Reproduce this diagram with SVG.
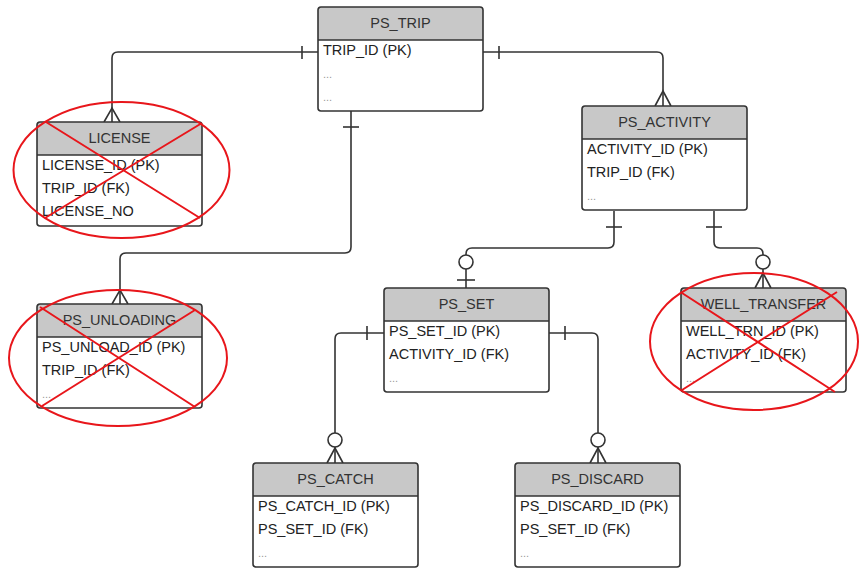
<svg xmlns="http://www.w3.org/2000/svg" xmlns:xlink="http://www.w3.org/1999/xlink" width="859" height="569" viewBox="0 0 859 569">
<style>
.hd{font-family:"Liberation Sans",Arial,sans-serif;font-size:14.5px;fill:#333;text-anchor:middle}
.rw{font-family:"Liberation Sans",Arial,sans-serif;font-size:14.5px;fill:#222}
.dt{font-family:"Liberation Sans",Arial,sans-serif;font-size:11px;fill:#999}
.ln{fill:none;stroke:#333;stroke-width:1.6}
.ci{fill:#fff;stroke:#333;stroke-width:1.6}
.x{fill:none;stroke:#e8161b;stroke-width:2}
</style>
<defs>
<g id="frame">
<rect x="0" y="0" width="165" height="104" rx="3" fill="#fff"/>
<path d="M0,33 V3 Q0,0 3,0 H162 Q165,0 165,3 V33 Z" fill="#c8c8c8"/>
<line x1="0" y1="33" x2="165" y2="33" stroke="#333" stroke-width="1.6"/>
<rect x="0" y="0" width="165" height="104" rx="3" fill="none" stroke="#333" stroke-width="1.6"/>
</g>
</defs>
<rect width="859" height="569" fill="#fff"/>
<g id="connectors">
<!-- TRIP to LICENSE -->
<path class="ln" d="M318,52 H118 Q112,52 112,58 V122"/>
<path class="ln" d="M302,46 V59"/>
<path class="ln" d="M104,122 L112,108 L120,122"/>
<!-- TRIP to ACTIVITY -->
<path class="ln" d="M483,52 H657 Q663,52 663,58 V106"/>
<path class="ln" d="M499,46 V59"/>
<path class="ln" d="M655,106 L663,91 L671,106"/>
<!-- TRIP to UNLOADING -->
<path class="ln" d="M351,111 V247 Q351,253 345,253 H126 Q120,253 120,259 V304"/>
<path class="ln" d="M343,127 H359"/>
<path class="ln" d="M112,304 L120,290 L128,304"/>
<!-- ACTIVITY to SET -->
<path class="ln" d="M614,211 V242 Q614,248 608,248 H472 Q466,248 466,254 V255"/>
<path class="ln" d="M606,227 H622"/>
<path class="ln" d="M466,269 V288"/>
<circle class="ci" cx="466" cy="262" r="7"/>
<path class="ln" d="M457,280 H475"/>
<!-- ACTIVITY to WELL_TRANSFER -->
<path class="ln" d="M714,211 V242 Q714,248 720,248 H757 Q763,248 763,254 V255"/>
<path class="ln" d="M706,227 H722"/>
<path class="ln" d="M763,269 V288"/>
<circle class="ci" cx="763" cy="262" r="7"/>
<path class="ln" d="M755,288 L763,273 L771,288"/>
<!-- SET to CATCH -->
<path class="ln" d="M384,333 H341 Q335,333 335,339 V433"/>
<path class="ln" d="M367,326 V340"/>
<path class="ln" d="M335,447 V463"/>
<circle class="ci" cx="335" cy="440" r="7"/>
<path class="ln" d="M327,463 L335,448 L343,463"/>
<!-- SET to DISCARD -->
<path class="ln" d="M548,333 H592 Q598,333 598,339 V433"/>
<path class="ln" d="M565,326 V340"/>
<path class="ln" d="M598,447 V463"/>
<circle class="ci" cx="598" cy="440" r="7"/>
<path class="ln" d="M590,463 L598,448 L606,463"/>
</g>
<g id="ps_trip" transform="translate(318,7)">
<use xlink:href="#frame"/>
<text class="hd" x="82.5" y="21">PS_TRIP</text>
<text class="rw" x="5" y="48">TRIP_ID (PK)</text>
<text class="dt" x="5" y="71">...</text>
<text class="dt" x="5" y="94">...</text>
</g>
<g id="license" transform="translate(37,122)">
<use xlink:href="#frame"/>
<text class="hd" x="82.5" y="21">LICENSE</text>
<text class="rw" x="5" y="48">LICENSE_ID (PK)</text>
<text class="rw" x="5" y="71">TRIP_ID (FK)</text>
<text class="rw" x="5" y="94">LICENSE_NO</text>
</g>
<g id="ps_activity" transform="translate(582,106)">
<use xlink:href="#frame"/>
<text class="hd" x="82.5" y="21">PS_ACTIVITY</text>
<text class="rw" x="5" y="48">ACTIVITY_ID (PK)</text>
<text class="rw" x="5" y="71">TRIP_ID (FK)</text>
<text class="dt" x="5" y="94">...</text>
</g>
<g id="ps_unloading" transform="translate(37,304)">
<use xlink:href="#frame"/>
<text class="hd" x="82.5" y="21">PS_UNLOADING</text>
<text class="rw" x="5" y="48">PS_UNLOAD_ID (PK)</text>
<text class="rw" x="5" y="71">TRIP_ID (FK)</text>
<text class="dt" x="5" y="94">...</text>
</g>
<g id="ps_set" transform="translate(384,288)">
<use xlink:href="#frame"/>
<text class="hd" x="82.5" y="21">PS_SET</text>
<text class="rw" x="5" y="48">PS_SET_ID (PK)</text>
<text class="rw" x="5" y="71">ACTIVITY_ID (FK)</text>
<text class="dt" x="5" y="94">...</text>
</g>
<g id="well_transfer" transform="translate(681,288)">
<use xlink:href="#frame"/>
<text class="hd" x="82.5" y="21">WELL_TRANSFER</text>
<text class="rw" x="5" y="48">WELL_TRN_ID (PK)</text>
<text class="rw" x="5" y="71">ACTIVITY_ID (FK)</text>
<text class="dt" x="5" y="94">...</text>
</g>
<g id="ps_catch" transform="translate(253,463)">
<use xlink:href="#frame"/>
<text class="hd" x="82.5" y="21">PS_CATCH</text>
<text class="rw" x="5" y="48">PS_CATCH_ID (PK)</text>
<text class="rw" x="5" y="71">PS_SET_ID (FK)</text>
<text class="dt" x="5" y="94">...</text>
</g>
<g id="ps_discard" transform="translate(515,463)">
<use xlink:href="#frame"/>
<text class="hd" x="82.5" y="21">PS_DISCARD</text>
<text class="rw" x="5" y="48">PS_DISCARD_ID (PK)</text>
<text class="rw" x="5" y="71">PS_SET_ID (FK)</text>
<text class="dt" x="5" y="94">...</text>
</g>
<g id="crossouts">
<ellipse class="x" cx="121.5" cy="170" rx="108" ry="68"/>
<path class="x" d="M46,122 L200,218 M45,218 L202,123"/>
<ellipse class="x" cx="118" cy="358" rx="109" ry="68"/>
<path class="x" d="M40,307 L195,407 M42,406 L195,310"/>
<ellipse class="x" cx="754" cy="341.5" rx="104" ry="68.5"/>
<path class="x" d="M682,293 L835,392 M682,390 L837,292"/>
</g>
</svg>
